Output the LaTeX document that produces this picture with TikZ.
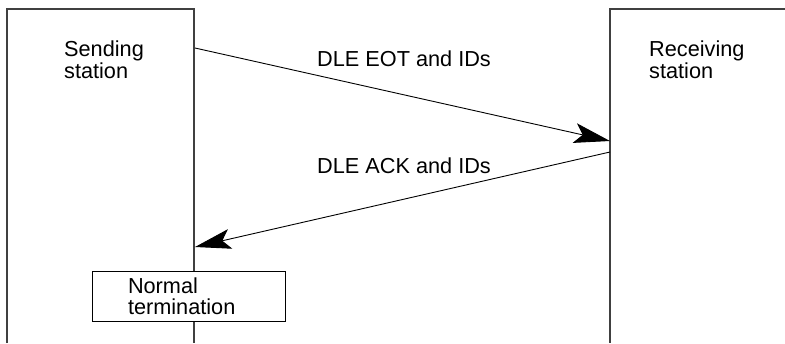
\documentclass[tikz,border=0pt]{standalone}
\usepackage{fontspec}
\setmainfont{Liberation Sans}
\usetikzlibrary{arrows.meta}
\begin{document}
\begin{tikzpicture}[x=1pt, y=-1pt,
    every node/.style={font=\fontsize{21.7}{21.5}\selectfont, inner sep=0pt},
    station/.style={line width=1.2pt, black!75},
    msg/.style={line width=0.9pt, -{Stealth[length=36pt, width=20pt, inset=8pt]}}]
    \useasboundingbox (0,0) rectangle (785,343);
    % Sending station (open at the bottom)
    \draw[station] (7,343) -- (7,9) -- (194,9) -- (194,343);
    \node[anchor=north west, align=left] (send) at (64,41) {Sending\\station};
    % Receiving station (open at the right and bottom)
    \draw[station] (785,9) -- (610,9) -- (610,343);
    \node[anchor=north west, align=left] (recv) at (649,41) {Receiving\\station};
    % Points on the station lines
    \coordinate (s1) at (195,48);
    \coordinate (r1) at (610,141);
    \coordinate (r2) at (610,152);
    \coordinate (s2) at (195,247);
    % Messages
    \draw[msg] (s1) -- (r1);
    \node[anchor=base west] (eot) at (317,66) {DLE EOT and IDs};
    \draw[msg] (r2) -- (s2);
    \node[anchor=base west] (ack) at (317,173) {DLE ACK and IDs};
    % Termination box over the sending line
    \node[draw, fill=white, line width=1pt, inner xsep=36pt, text width=121pt,
          minimum height=50pt, align=left] (term) at (188.5,296) {Normal\\termination};
\end{tikzpicture}
\end{document}
